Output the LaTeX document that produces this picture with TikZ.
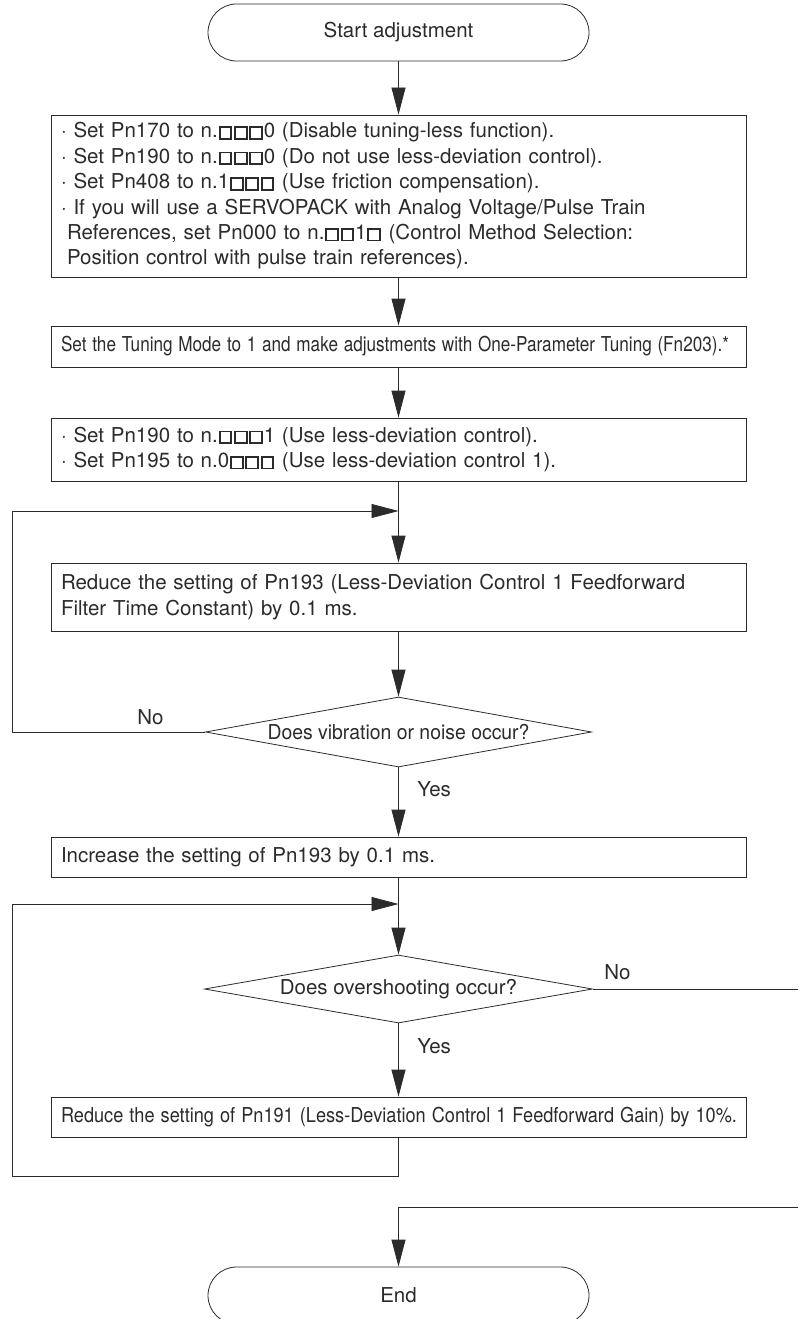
\documentclass[tikz,border=0pt]{standalone}
\usepackage{fontspec}
\setmainfont{TeX Gyre Heros}
\usetikzlibrary{arrows.meta,shapes.geometric}
\definecolor{ink}{HTML}{2B2B2B}
\newcommand{\sqb}{\kern0.9pt{\setlength{\fboxsep}{0pt}\setlength{\fboxrule}{1.8pt}\fbox{\rule{9.9pt}{0pt}\rule{0pt}{9.9pt}}}\kern0.9pt}
\begin{document}
\begin{tikzpicture}[x=1pt,y=-1pt,color=ink,line width=0.8pt,
  base/.style={font=\fontsize{20.5}{25.4}\selectfont, text=ink},
  term/.style={base, draw, rounded corners=28.5pt, minimum width=381pt, minimum height=57pt, inner sep=0pt},
  box/.style={base, draw, minimum width=695pt, text width=675pt, inner xsep=10pt, inner ysep=0pt, align=left},
  dec/.style={base, draw, diamond, aspect=5.5, minimum width=386pt, minimum height=70pt, inner sep=0pt},
  arr/.style={-{Triangle[length=27pt,width=14pt]}},
  lab/.style={base, anchor=west, inner sep=0pt}
]
\useasboundingbox (0,0) rectangle (798,1319);
\node[term] (start) at (398.5,32.5) {Start adjustment};
\node[box, minimum height=162pt] (b1) at (398.5,196) {· Set Pn170 to n.\sqb\sqb\sqb0 (Disable tuning-less function).\\
· Set Pn190 to n.\sqb\sqb\sqb0 (Do not use less-deviation control).\\
· Set Pn408 to n.1\sqb\sqb\sqb{} (Use friction compensation).\\
· If you will use a SERVOPACK with Analog Voltage/Pulse Train\\
\hspace*{6pt}References, set Pn000 to n.\sqb\sqb1\sqb{} (Control Method Selection:\\
\hspace*{6pt}Position control with pulse train references).};
\node[box, minimum height=41pt] (b2) at (398.5,346.5) {\resizebox{668pt}{\height}{Set the Tuning Mode to 1 and make adjustments with One-Parameter Tuning (Fn203).*}};
\node[box, minimum height=63pt] (b3) at (398.5,449.5) {· Set Pn190 to n.\sqb\sqb\sqb1 (Use less-deviation control).\\
· Set Pn195 to n.0\sqb\sqb\sqb{} (Use less-deviation control 1).};
\node[box, minimum height=68pt] (b4) at (398.5,597) {Reduce the setting of Pn193 (Less-Deviation Control 1 Feedforward\\
Filter Time Constant) by 0.1 ms.};
\node[dec] (d1) at (398.5,732) {\resizebox{262pt}{\height}{Does vibration or noise occur?}};
\node[box, minimum height=40pt] (b5) at (398.5,857) {Increase the setting of Pn193 by 0.1 ms.};
\node[dec, minimum width=388pt, minimum height=68pt] (d2) at (398.5,989) {Does overshooting occur?};
\node[box, minimum height=40pt] (b6) at (398.5,1117) {\resizebox{676pt}{\height}{Reduce the setting of Pn191 (Less-Deviation Control 1 Feedforward Gain) by 10\%.}};
\node[term] (end) at (398.5,1295.5) {End};
\coordinate (l1) at (12,511);
\coordinate (j1) at (398.5,511);
\coordinate (c1) at (398.5,1176);
\coordinate (c2) at (12,904);
\coordinate (j2) at (398.5,904);
\coordinate (r1) at (798,989);
\coordinate (r2) at (798,1207);
\draw[arr] (start) -- (b1);
\draw[arr] (b1) -- (b2);
\draw[arr] (b2) -- (b3);
\draw[arr] (b3) -- (b4);
\draw[arr] (b4) -- (d1);
\draw[arr] (d1) -- (b5);
\draw[arr] (b5) -- (d2);
\draw[arr] (d2) -- (b6);
\draw[arr] (d1.west) -| (l1) -- (j1);
\draw[arr] (b6.south) -- (c1) -| (c2) -- (j2);
\draw (d2.east) -- (r1);
\draw[arr] (r2) -| (end.north);
\node[lab] (no1) at (137,717) {No};
\node[lab] (yes1) at (417,789) {Yes};
\node[lab] (no2) at (604,972) {No};
\node[lab] (yes2) at (417,1046) {Yes};
\end{tikzpicture}
\end{document}
